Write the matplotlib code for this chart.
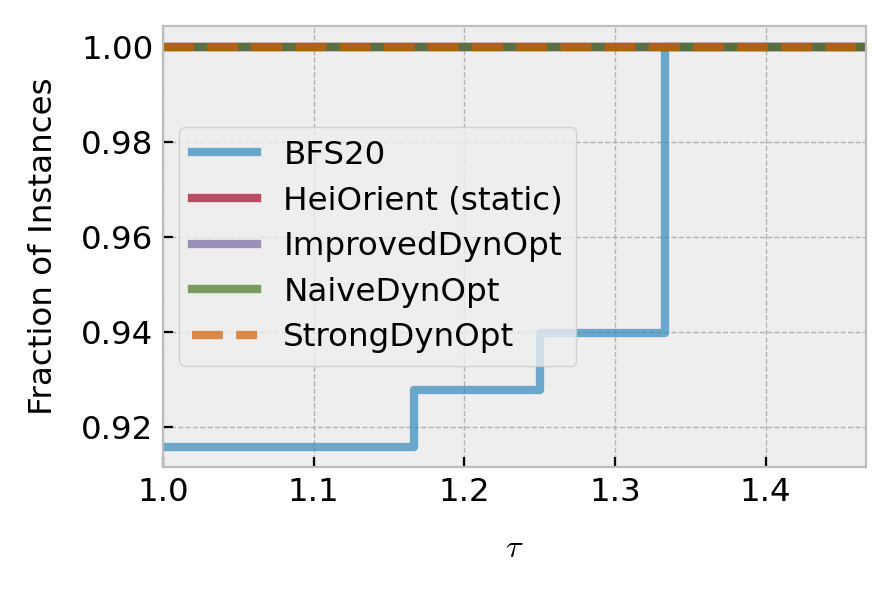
import numpy as np
import matplotlib
matplotlib.use("Agg")
import matplotlib.pyplot as plt

plt.style.use("bmh")

# performance profile data (tau, fraction of instances)
n_instances = 83
bfs_tau = [1.0, 7 / 6, 1.25, 4 / 3, 1.467]
bfs_frac = [76 / 83, 77 / 83, 78 / 83, 83 / 83, 83 / 83]

other_tau = [1.0, 1.467]
other_frac = [1.0, 1.0]

labels = ["BFS20", "HeiOrient (static)", "ImprovedDynOpt",
          "NaiveDynOpt", "StrongDynOpt"]
styles = ["-", "-", "-", "-", "--"]

fs = 11.7

fig = plt.figure(figsize=(4.48, 2.96), dpi=200)
ax = fig.add_axes([0.182, 0.211, 0.785, 0.745])

series = [(bfs_tau, bfs_frac)] + [(other_tau, other_frac)] * 4
for (t, f), lab, ls in zip(series, labels, styles):
    ax.plot(t, f, drawstyle="steps-post", lw=3, alpha=0.7, ls=ls, label=lab)

ax.set_xlim(1.0, 1.467)
ax.set_ylim(0.9115, 1.0045)
ax.set_xticks([1.0, 1.1, 1.2, 1.3, 1.4])
ax.set_yticks([0.92, 0.94, 0.96, 0.98, 1.00])
ax.set_xlabel(r"$\tau$", fontsize=fs, labelpad=9)
ax.set_ylabel("Fraction of Instances", fontsize=fs, labelpad=8)
ax.tick_params(direction="in", top=False, right=False, labelsize=fs)
ax.legend(loc="center left", fontsize=fs, labelspacing=0.45)

fig.savefig("out.png", dpi=200)
